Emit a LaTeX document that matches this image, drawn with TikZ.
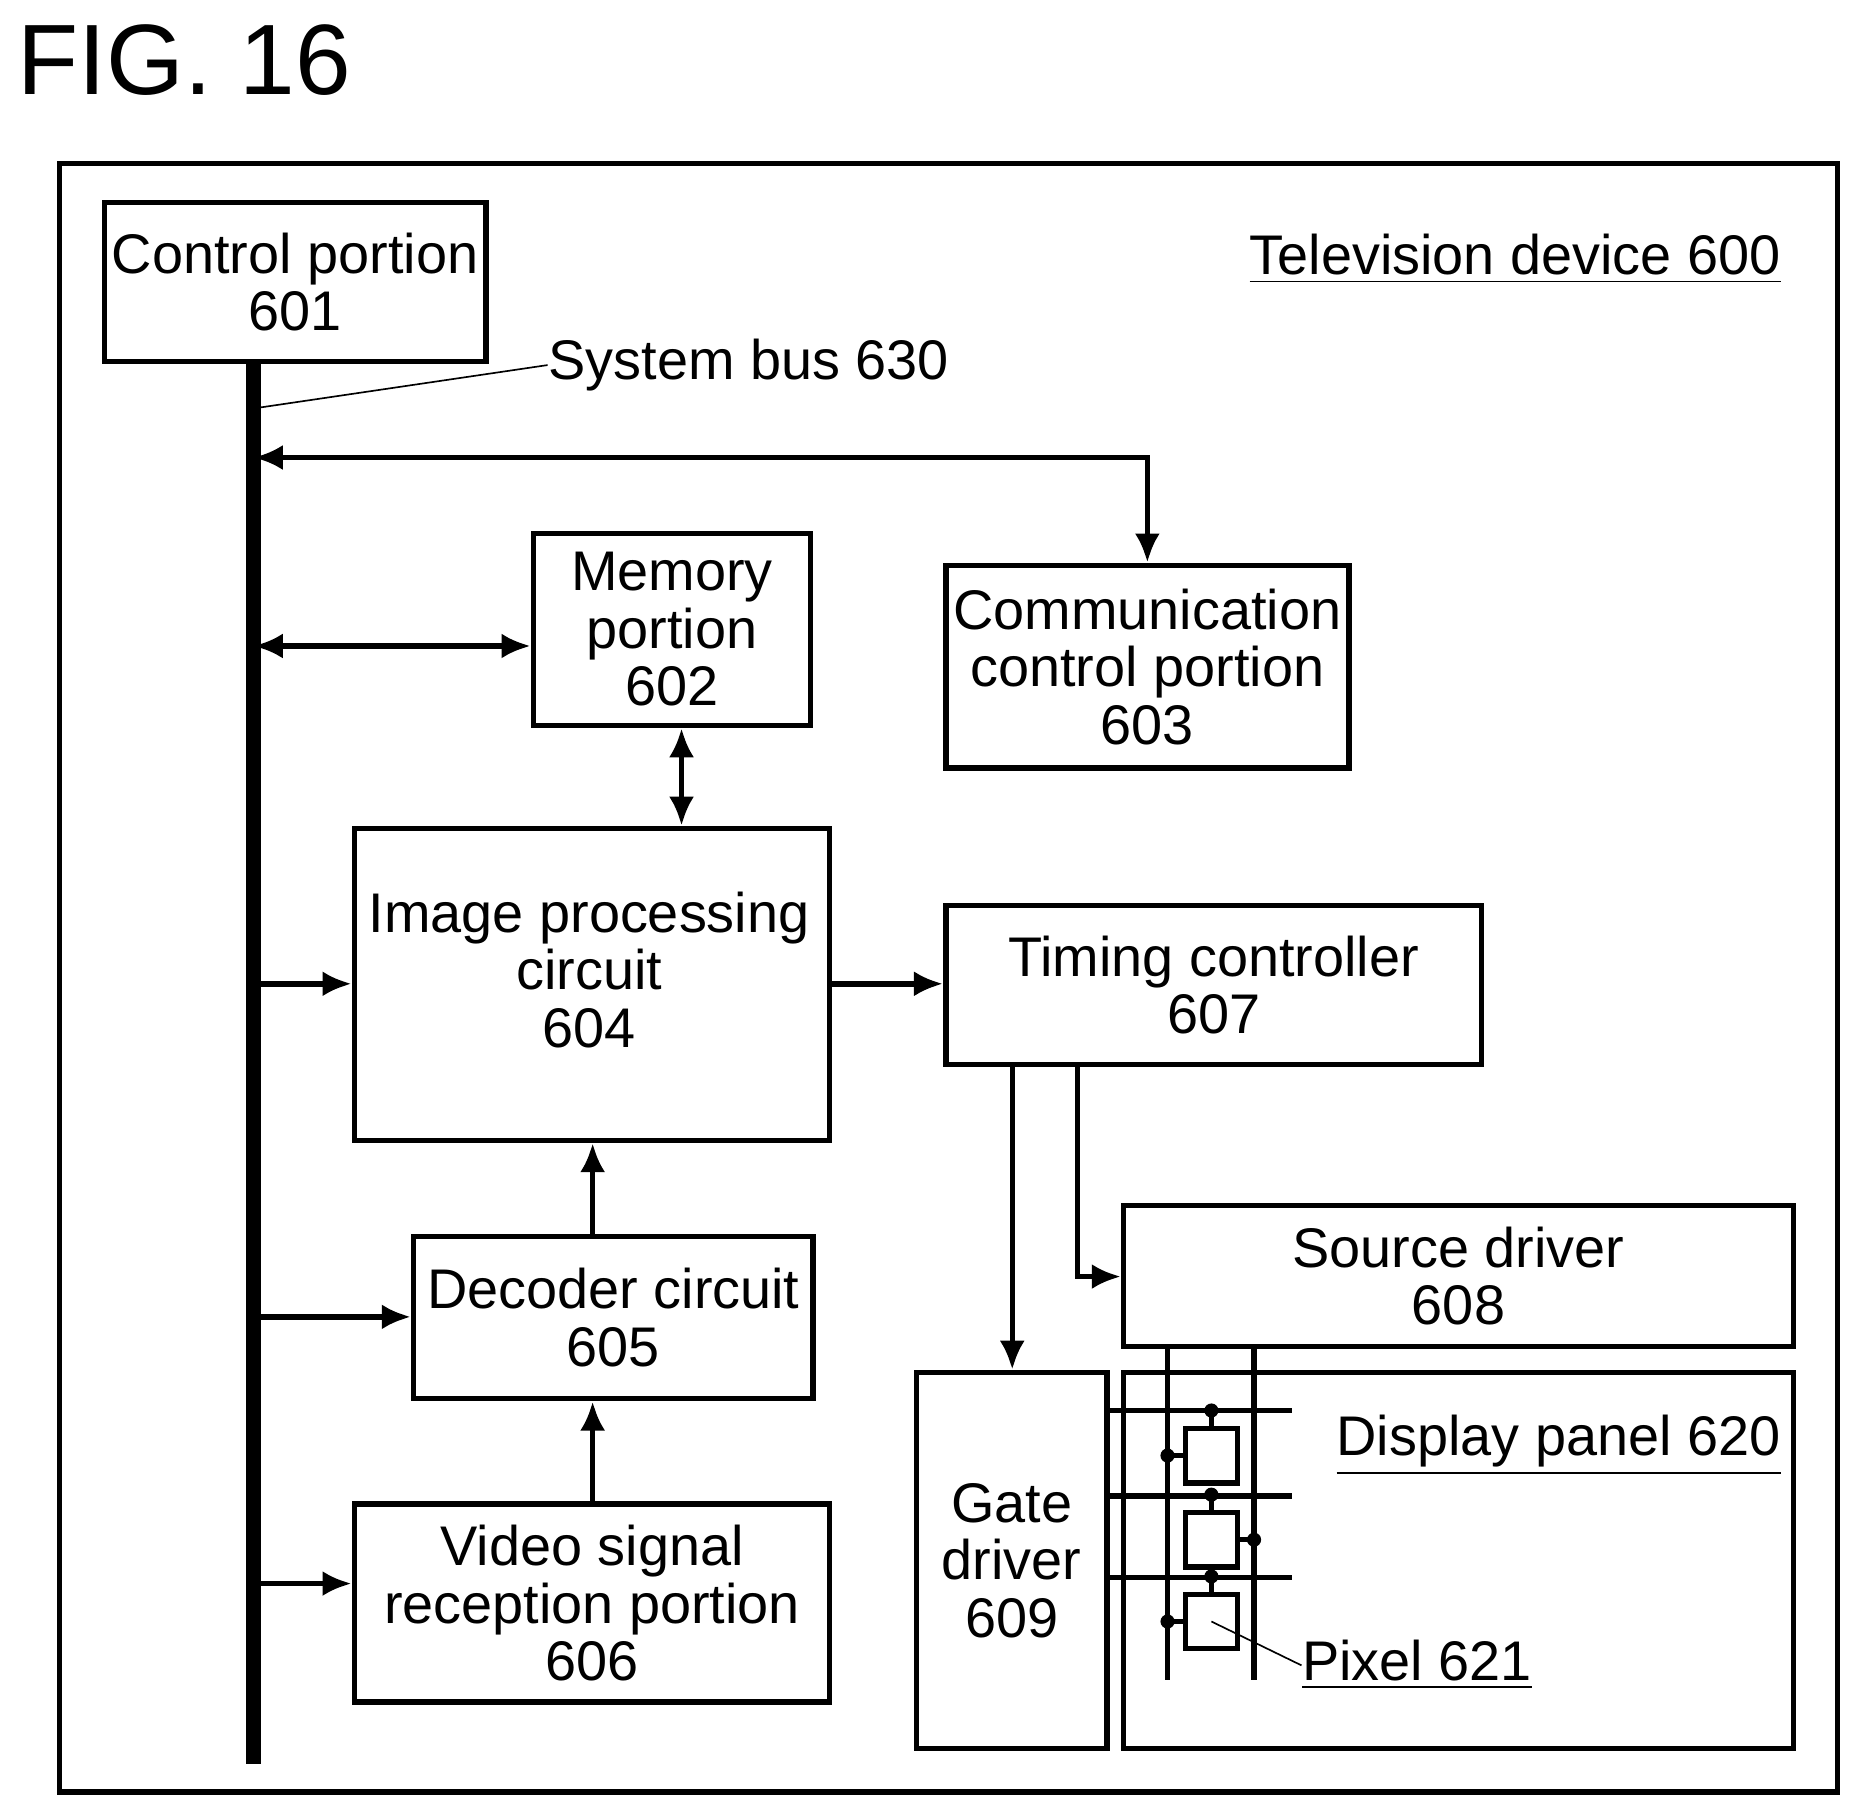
\documentclass[tikz,border=0pt]{standalone}
\usepackage{fontspec}
\setmainfont{Liberation Sans}
\usetikzlibrary{arrows.meta}
\tikzset{
  blk/.style={draw,line width=1.3pt,inner sep=0pt,align=center,font=\fontsize{13.4pt}{13.8pt}\selectfont},
  txt/.style={inner sep=0pt,align=center,font=\fontsize{13.4pt}{13.8pt}\selectfont},
  sig/.style={line width=1.3pt,-{Latex[length=7pt,width=6pt]}},
  bsig/.style={line width=1.3pt,{Latex[length=7pt,width=6pt]}-{Latex[length=7pt,width=6pt]}},
  wire/.style={line width=1.3pt},
  dot/.style={circle,fill,inner sep=1.2pt}
}
\newcommand{\blkat}[6]{% name, x1,y1,x2,y2, text
  \node[blk,minimum width={(#4-#2)*0.01cm},minimum height={(#5-#3)*0.01cm}] (#1) at ({(#2+#4)/2},{(#3+#5)/2}) {#6};}
\begin{document}
\begin{tikzpicture}[x=0.01cm,y=-0.01cm]
\useasboundingbox (0,0) rectangle (1565,1527);
\node[anchor=north west,inner sep=0pt,font=\fontsize{24pt}{24pt}\selectfont] (fig) at (14,20) {FIG. 16};
\draw[line width=1.3pt] (50,138) rectangle (1550,1512);
\node[txt,anchor=base east] (tv) at (1503,232) {\underline{Television device 600}};
% blocks
\blkat{ctrl}{88}{171}{410}{305}{Control portion\\601}
\blkat{mem}{450}{450}{684}{612}{Memory\\portion\\602}
\blkat{comm}{798}{477}{1138}{648}{Communication\\control portion\\603}
\blkat{img}{299}{699}{700}{962}{}
\node[txt] (imgtxt) at (497,818) {Image processing\\circuit\\604};
\blkat{tcon}{798}{764}{1250}{898}{Timing controller\\607}
\blkat{dec}{349}{1043}{686}{1180}{Decoder circuit\\605}
\blkat{vid}{299}{1269}{700}{1436}{Video signal\\reception portion\\606}
\blkat{src}{948}{1017}{1513}{1136}{Source driver\\608}
\blkat{gate}{773}{1158}{934}{1475}{Gate\\driver\\609}
\blkat{disp}{948}{1158}{1513}{1475}{}
\node[txt,anchor=base east] (disptxt) at (1503,1228) {\underline{Display panel 620}};
% system bus
\coordinate (bt) at (ctrl.south -| 214,0);
\coordinate (bb) at (214,1488);
\draw[line width=3.5pt] (bt) -- (bb);
\coordinate (bp) at (218,344);
\node[txt,anchor=west] (bus) at (462,308) {System bus 630};
\draw (bp) -- (bus.west);
% connectors
\draw[bsig] (214,386) -| (comm.north);
\draw[bsig] (214,545) -- (mem.west |- 0,545);
\draw[bsig] (mem.south -| 575,0) -- (img.north -| 575,0);
\draw[sig] (214,830) -- (img.west |- 0,830);
\draw[sig] (img.east |- 0,830) -- (tcon.west |- 0,830);
\draw[sig] (dec.north -| 500,0) -- (img.south -| 500,0);
\draw[sig] (214,1111) -- (dec.west |- 0,1111);
\draw[sig] (vid.north -| 500,0) -- (dec.south -| 500,0);
\draw[sig] (214,1336) -- (vid.west |- 0,1336);
\draw[sig] (tcon.south -| 854,0) -- (gate.north -| 854,0);
\draw[sig] (tcon.south -| 909,0) |- (src.west |- 0,1077);
% pixel array
\foreach \x in {985,1058} \draw[wire] (src.south -| \x,0) -- (\x,1417);
\foreach \y in {1190,1262,1331} \draw[wire] (gate.east |- 0,\y) -- (1090,\y);
\foreach \t/\y/\s/\e in {1/1205/985/1000,2/1276/1058/1044,3/1345/985/1000} {
  \draw[wire] (1000,\y) rectangle (1044,\y+46);
  \coordinate (px\t) at (1022,\y+23);
  \draw[wire] (1022,\y) -- (1022,\y-15) node[dot]{};
  \draw[wire] (\s,\y+23) node[dot]{} -- (\e,\y+23);
}
\node[txt,anchor=base west] (pix) at (1098,1418) {\underline{Pixel 621}};
\draw (px3) -- (pix.west |- 0,1405);
\end{tikzpicture}
\end{document}
